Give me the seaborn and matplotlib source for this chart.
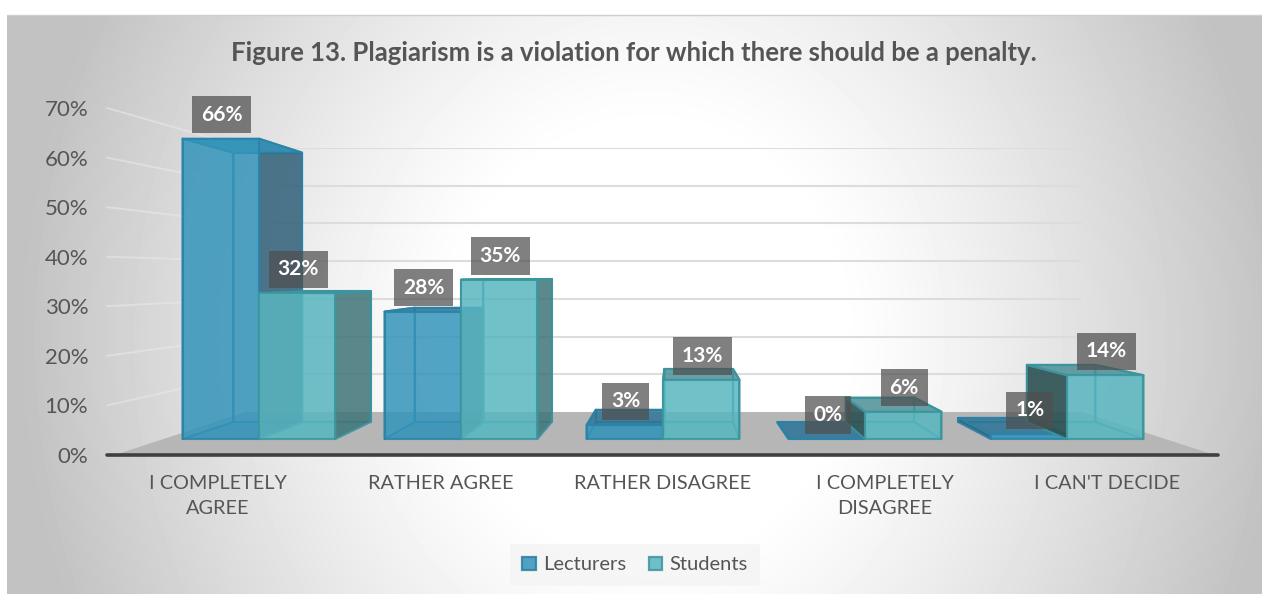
import numpy as np
import pandas as pd
import matplotlib
matplotlib.use("Agg")
import matplotlib.pyplot as plt
from matplotlib.patches import Polygon
import seaborn as sns

categories = ["I COMPLETELY\nAGREE", "RATHER AGREE", "RATHER DISAGREE", "I COMPLETELY\nDISAGREE", "I CAN'T DECIDE"]
lecturers = [66, 28, 3, 0, 1]
students = [32, 35, 13, 6, 14]
title = "Figure 13. Plagiarism is a violation for which there should be a penalty."

W, H = 1262, 594
sns.set_theme(style="white")
plt.rcParams["font.family"] = ["Lato", "DejaVu Sans"]
TXT = "#555555"
BLUE, TEAL = "#3494BA", "#58B6C0"
style = {
    "Lecturers": dict(edge="#2B83A8", dark="#2F5F78", ldark="#2F5F78", top="#2F7596"),
    "Students": dict(edge="#3B959F", dark="#3F7478", ldark="#2C5052", top="#4C9097"),
}

fig = plt.figure(figsize=(W / 100, H / 100), dpi=100, facecolor="white")


def px_axes(left, top, right, bottom, **kw):
    return fig.add_axes([left / W, 1 - bottom / H, (right - left) / W, (bottom - top) / H], **kw)


# background panel with a radial gradient
bg = px_axes(7, 15, W, H, zorder=0)
yy, xx = np.mgrid[15:H, 7:W]
r = np.sqrt(((xx - 650) / 630.0) ** 2 + ((yy - 340) / 700.0) ** 2)
shade = 1 - 0.24 * np.clip((r - 0.3) / 0.7, 0, 1) ** 1.2
bg.imshow(shade, cmap="gray", vmin=0, vmax=1, aspect="auto", interpolation="bilinear")
bg.axis("off")
fig.add_artist(plt.Line2D([7 / W, 1], [1 - 14.5 / H] * 2, color="#CFCFCF", lw=1))

# front frame: axis line, tick labels, floor, side-wall lines
frame = px_axes(107, 108, 1218, 455, zorder=1)
frame.patch.set_alpha(0)
frame.set_xlim(-0.5, 4.5)
frame.set_ylim(0, 70)
frame.set_xticks(range(len(categories)), categories)
frame.set_yticks(range(0, 71, 10), [f"{v}%" for v in range(0, 71, 10)])
frame.tick_params(axis="x", length=0, pad=14.5, labelsize=14.3, labelcolor=TXT)
frame.tick_params(axis="y", length=0, pad=13.5, labelsize=16, labelcolor=TXT)
for lab in frame.get_xticklabels():
    lab.set_linespacing(1.55)
    lab.set_verticalalignment("top")
for side in ("top", "left", "right"):
    frame.spines[side].set_visible(False)
frame.spines["bottom"].set_color("#404040")
frame.spines["bottom"].set_linewidth(2.6)
frame.spines["bottom"].set_capstyle("round")

# back wall with the horizontal grid
wall = px_axes(246, 148, 1082, 412, zorder=2)
wall.patch.set_alpha(0)
wall.set_xlim(0, 1)
wall.set_ylim(0, 70)
wall.set_xticks([])
wall.set_yticks(range(10, 71, 10))
wall.set_yticklabels([])
wall.grid(axis="y", color="#DCDCDC", lw=1.5)
wall.tick_params(length=0)
sns.despine(ax=wall, left=True, bottom=True)

to_frame = frame.transData.inverted()
for v in range(10, 71, 10):
    end = to_frame.transform(wall.transData.transform((0, v)))
    frame.plot([-0.5, end[0]], [v, end[1]], color="#E8E8E8", lw=1.4, alpha=0.6, zorder=1, clip_on=False)
bl = to_frame.transform(wall.transData.transform((0, 0)))
br = to_frame.transform(wall.transData.transform((1, 0)))
frame.add_patch(Polygon([(-0.465, 0), (4.485, 0), br, bl], closed=True, fc="#B6B6B6", ec="none", zorder=0.5))

# bars, seen in perspective
df = pd.DataFrame({
    "category": categories * 2,
    "group": ["Lecturers"] * 5 + ["Students"] * 5,
    "value": lecturers + students,
})
ax = px_axes(107, 90, 1218, 439, zorder=3)
ax.patch.set_alpha(0)
sns.barplot(data=df, x="category", y="value", hue="group", palette=[BLUE, TEAL], hue_order=["Lecturers", "Students"],
            width=0.757, gap=0, alpha=0.85, ax=ax, legend=True, saturation=1, linewidth=2)
handles, labels = ax.get_legend_handles_labels()
ax.get_legend().remove()
ax.set_xlim((107 - 259) / 202, (1218 - 259) / 202)
ax.set_ylim(0, 349 / 4.55)
ax.set_xticks([])
ax.set_yticks([])
ax.set_xlabel("")
ax.set_ylabel("")
sns.despine(ax=ax, left=True, bottom=True)

VX, VY, S = (677 - 259) / 202, (439 - 274) / 4.55, 0.897


def back(p):
    return (VX + S * (p[0] - VX), VY + S * (p[1] - VY))


z = 3.0
for name, container in zip(["Lecturers", "Students"], ax.containers):
    st = style[name]
    for bar in container:
        x0, x1 = bar.get_x(), bar.get_x() + bar.get_width()
        h = bar.get_height()
        h = 0 if np.isnan(h) else h
        fbl, fbr, ftr, ftl = (x0, 0), (x1, 0), (x1, h), (x0, h)
        bbl, bbr, btr, btl = back(fbl), back(fbr), back(ftr), back(ftl)
        edge = dict(ec=st["edge"], lw=1.5, joinstyle="round", zorder=z, clip_on=False)
        ax.add_patch(Polygon([bbl, bbr, btr, btl], fc="none", **edge))
        ax.add_patch(Polygon([fbl, fbr, bbr, bbl], fc=bar.get_facecolor()[:3], alpha=0.25, zorder=z, ec="none", clip_on=False))
        ax.add_patch(Polygon([fbl, bbl, btl, ftl], fc=st["ldark"], alpha=0.9, **edge) if x0 > VX
                     else Polygon([fbl, bbl, btl, ftl], fc="none", **edge))
        ax.add_patch(Polygon([fbr, bbr, btr, ftr], fc=st["dark"], alpha=0.85, **edge) if x1 < VX
                     else Polygon([fbr, bbr, btr, ftr], fc="none", **edge))
        ax.add_patch(Polygon([ftl, ftr, btr, btl], fc=st["top"] if h < VY else bar.get_facecolor()[:3],
                             alpha=0.85, **edge))
        bar.set_edgecolor(st["edge"])
        bar.set_linewidth(1.5)
        bar.set_zorder(z + 0.5)
        bar.set_clip_on(False)
        ax.annotate(f"{h:.0f}%", xy=(bar.get_x() + bar.get_width() / 2, h), xytext=(1, 24),
                    textcoords="offset pixels", ha="center", va="center", color="white",
                    fontsize=15, fontweight="bold", zorder=50, annotation_clip=False,
                    bbox=dict(boxstyle="square,pad=0.42", fc="#4F4F4F", ec="none", alpha=0.72))
        z += 1

fig.text(634 / W, 1 - 53 / H, title, ha="center", va="center", fontsize=18.5, fontweight="bold", color=TXT)
leg = fig.legend(handles, labels, loc="center", bbox_to_anchor=(635 / W, 1 - 565 / H), ncol=2, frameon=True,
                 facecolor="#F4F4F4", edgecolor="none", fontsize=14.5, labelcolor=TXT, handlelength=0.68,
                 handleheight=0.68, handletextpad=0.35, columnspacing=1.1, borderpad=0.62, fancybox=False)
for hd, c in zip(leg.legend_handles, ["#2B7FA3", "#3B959F"]):
    hd.set_edgecolor(c)
    hd.set_linewidth(1.6)

fig.savefig("out.png", dpi=100)
